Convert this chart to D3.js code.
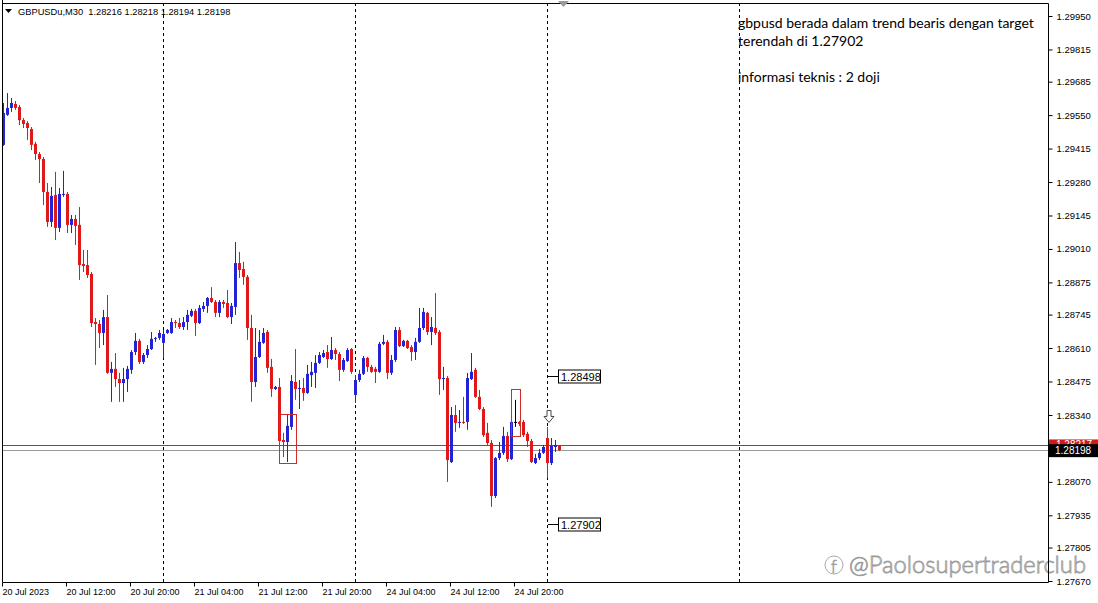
<!DOCTYPE html>
<html><head><meta charset="utf-8">
<script src="https://cdn.jsdelivr.net/npm/d3@7"></script>
<style>body{margin:0;background:#fff;} svg{display:block;}</style>
</head><body><svg id="c" width="1098" height="603"></svg>
<script>
// ---- data (GBPUSDu M30, bars from 20 Jul 2023 04:00) ----
const opens = [
1.29430,1.29551,1.29579,1.29595,1.29583,1.29530,1.29518,1.29494,1.29434,1.29393,
1.29373,1.29240,1.29119,1.29228,1.29095,1.29228,1.29232,1.29107,1.29131,1.29107,
1.28949,1.28945,1.28909,1.28715,1.28707,1.28671,1.28735,1.28510,1.28526,1.28485,
1.28469,1.28485,1.28522,1.28594,1.28639,1.28554,1.28582,1.28606,1.28647,1.28651,
1.28631,1.28671,1.28671,1.28715,1.28711,1.28695,1.28715,1.28740,1.28760,1.28711,
1.28768,1.28780,1.28812,1.28796,1.28752,1.28796,1.28792,1.28735,1.28776,1.28953,
1.28929,1.28897,1.28691,1.28473,1.28574,1.28631,1.28675,1.28534,1.28445,1.28453,
1.28239,1.28231,1.28292,1.28473,1.28445,1.28449,1.28429,1.28501,1.28510,1.28550,
1.28574,1.28594,1.28566,1.28602,1.28586,1.28522,1.28558,1.28606,1.28421,1.28481,
1.28506,1.28570,1.28534,1.28526,1.28514,1.28627,1.28635,1.28510,1.28562,1.28683,
1.28618,1.28639,1.28614,1.28594,1.28635,1.28691,1.28752,1.28675,1.28691,1.28675,
1.28485,1.28489,1.28150,1.28340,1.28308,1.28312,1.28312,1.28485,1.28522,1.28413,
1.28364,1.28268,1.28227,1.28013,1.28166,1.28187,1.28255,1.28162,1.28312,1.28312,
1.28312,1.28264,1.28235,1.28146,1.28166,1.28187,1.28247,1.28146,1.28211,1.28216];
const highs = [
1.29599,1.29639,1.29619,1.29607,1.29591,1.29538,1.29526,1.29502,1.29442,1.29401,
1.29381,1.29276,1.29260,1.29321,1.29256,1.29325,1.29240,1.29147,1.29147,1.29179,
1.29006,1.29006,1.28917,1.28731,1.28723,1.28764,1.28824,1.28554,1.28590,1.28510,
1.28530,1.28538,1.28602,1.28671,1.28647,1.28590,1.28622,1.28675,1.28655,1.28683,
1.28683,1.28687,1.28731,1.28723,1.28731,1.28735,1.28764,1.28768,1.28768,1.28784,
1.28796,1.28816,1.28856,1.28804,1.28804,1.28804,1.28844,1.28792,1.29038,1.28998,
1.28958,1.28905,1.28744,1.28691,1.28683,1.28691,1.28683,1.28566,1.28457,1.28489,
1.28268,1.28340,1.28501,1.28606,1.28481,1.28489,1.28542,1.28554,1.28582,1.28594,
1.28602,1.28622,1.28655,1.28610,1.28594,1.28570,1.28610,1.28610,1.28501,1.28522,
1.28578,1.28574,1.28542,1.28534,1.28635,1.28663,1.28643,1.28582,1.28695,1.28695,
1.28643,1.28643,1.28622,1.28651,1.28772,1.28772,1.28756,1.28735,1.28832,1.28683,
1.28534,1.28497,1.28372,1.28380,1.28360,1.28413,1.28510,1.28590,1.28530,1.28441,
1.28372,1.28308,1.28239,1.28170,1.28231,1.28292,1.28272,1.28320,1.28401,1.28316,
1.28320,1.28272,1.28243,1.28183,1.28203,1.28219,1.28292,1.28247,1.28239,1.28218];
const lows = [
1.29426,1.29547,1.29563,1.29571,1.29510,1.29498,1.29450,1.29409,1.29369,1.29276,
1.29187,1.29099,1.29099,1.29046,1.29078,1.29220,1.29074,1.29074,1.29026,1.28885,
1.28917,1.28893,1.28695,1.28542,1.28610,1.28622,1.28506,1.28393,1.28453,1.28393,
1.28393,1.28433,1.28506,1.28582,1.28546,1.28546,1.28570,1.28602,1.28635,1.28643,
1.28570,1.28667,1.28667,1.28691,1.28687,1.28683,1.28683,1.28735,1.28659,1.28707,
1.28756,1.28752,1.28792,1.28735,1.28735,1.28772,1.28731,1.28707,1.28744,1.28893,
1.28865,1.28643,1.28393,1.28453,1.28570,1.28627,1.28510,1.28413,1.28441,1.28199,
1.28170,1.28150,1.28280,1.28401,1.28364,1.28397,1.28425,1.28453,1.28449,1.28546,
1.28570,1.28530,1.28562,1.28562,1.28477,1.28514,1.28554,1.28506,1.28389,1.28473,
1.28501,1.28514,1.28510,1.28469,1.28510,1.28622,1.28485,1.28501,1.28554,1.28614,
1.28614,1.28606,1.28558,1.28562,1.28631,1.28683,1.28663,1.28622,1.28663,1.28421,
1.28441,1.28070,1.28146,1.28272,1.28288,1.28304,1.28280,1.28481,1.28409,1.28360,
1.28251,1.28219,1.27969,1.28005,1.28158,1.28179,1.28150,1.28158,1.28292,1.28296,
1.28251,1.28211,1.28146,1.28142,1.28158,1.28183,1.28086,1.28138,1.28191,1.28194];
const closes = [
1.29559,1.29579,1.29599,1.29579,1.29530,1.29514,1.29498,1.29430,1.29393,1.29373,
1.29240,1.29119,1.29224,1.29095,1.29232,1.29232,1.29107,1.29131,1.29103,1.28945,
1.28941,1.28905,1.28711,1.28707,1.28671,1.28735,1.28510,1.28526,1.28485,1.28469,
1.28485,1.28526,1.28594,1.28639,1.28554,1.28582,1.28606,1.28647,1.28651,1.28671,
1.28667,1.28683,1.28715,1.28711,1.28695,1.28715,1.28744,1.28760,1.28711,1.28772,
1.28780,1.28812,1.28796,1.28752,1.28796,1.28788,1.28735,1.28780,1.28953,1.28925,
1.28897,1.28691,1.28473,1.28574,1.28635,1.28671,1.28530,1.28445,1.28453,1.28235,
1.28231,1.28296,1.28477,1.28445,1.28449,1.28429,1.28506,1.28514,1.28550,1.28582,
1.28590,1.28566,1.28602,1.28586,1.28522,1.28562,1.28602,1.28514,1.28481,1.28506,
1.28570,1.28534,1.28514,1.28514,1.28627,1.28635,1.28510,1.28562,1.28683,1.28618,
1.28639,1.28610,1.28594,1.28635,1.28691,1.28756,1.28675,1.28695,1.28671,1.28485,
1.28489,1.28158,1.28340,1.28308,1.28312,1.28308,1.28489,1.28514,1.28413,1.28364,
1.28259,1.28227,1.28013,1.28166,1.28187,1.28255,1.28162,1.28312,1.28312,1.28304,
1.28259,1.28235,1.28150,1.28166,1.28187,1.28211,1.28146,1.28215,1.28219,1.28198];

const timeLabels = ["20 Jul 2023","20 Jul 12:00","20 Jul 20:00","21 Jul 04:00","21 Jul 12:00","21 Jul 20:00","24 Jul 04:00","24 Jul 12:00","24 Jul 20:00"];
const timeLabelBars = [0,16,32,48,64,80,96,112,128];
const daySeparatorBars = [40,88,136,184];
const priceTicks = [1.29950,1.29815,1.29685,1.29550,1.29415,1.29280,1.29145,1.29010,1.28875,1.28745,1.28610,1.28475,1.28340,1.28070,1.27935,1.27805,1.27670];
const askPrice = 1.28217, bidPrice = 1.28198;
const labelPrices = [1.28498, 1.27902];
const headerText = "GBPUSDu,M30  1.28216 1.28218 1.28194 1.28198";
const noteLines = ["gbpusd berada dalam trend bearis dengan target","terendah di 1.27902","","informasi teknis : 2 doji"];
const dojiBoxBars = [[69,73.2],[126.9,129.2]];
const dojiBoxPrices = [[1.28344,1.28146],[1.28445,1.28255]];
const arrowBar = 136, arrowPrice = 1.28330;
const watermark = "@Paolosupertraderclub";

// ---- drawing ----
const svg = d3.select("#c");
const L = 2, R = 1048, T = 3, B = 582;
const x = d3.scaleLinear().domain([0, 260]).range([3.3, 1043.3]);
const y = d3.scaleLinear().domain([1.27670, 1.29950]).range([581, 16]);
const BULL = "#2323d6", BEAR = "#e01818";

svg.append("rect").attr("width",1098).attr("height",603).attr("fill","#fff");

// day separators
svg.append("g").selectAll("line").data(daySeparatorBars).join("line")
  .attr("x1", d => Math.round(x(d)) + 0.5).attr("x2", d => Math.round(x(d)) + 0.5)
  .attr("y1", T).attr("y2", B)
  .attr("stroke", "#000").attr("stroke-dasharray", "3,3");

// bid / ask lines
svg.append("line").attr("x1",L).attr("x2",R).attr("y1",Math.round(y(askPrice))+0.5).attr("y2",Math.round(y(askPrice))+0.5).attr("stroke","#c42a2a");
svg.append("line").attr("x1",L).attr("x2",R).attr("y1",Math.round(y(bidPrice))+0.5).attr("y2",Math.round(y(bidPrice))+0.5).attr("stroke","#9a9a9a");

// candles
const idx = d3.range(opens.length);
const cg = svg.append("g");
const col = i => closes[i] > opens[i] ? BULL : (closes[i] < opens[i] ? BEAR : "#000");
cg.selectAll("line").data(idx).join("line")
  .attr("x1", i => Math.round(x(i)) + 0.5).attr("x2", i => Math.round(x(i)) + 0.5)
  .attr("y1", i => y(highs[i])).attr("y2", i => y(lows[i]))
  .attr("stroke", col);
cg.selectAll("rect").data(idx).join("rect")
  .attr("x", i => Math.round(x(i)) - 1)
  .attr("width", 3)
  .attr("y", i => Math.min(y(opens[i]), y(closes[i])))
  .attr("height", i => Math.max(1, Math.abs(y(opens[i]) - y(closes[i]))))
  .attr("fill", col);

// doji boxes
svg.append("g").selectAll("rect").data(dojiBoxBars).join("rect")
  .attr("x", (d) => Math.round(x(d[0])) + 0.5)
  .attr("width", d => Math.round(x(d[1]) - x(d[0])))
  .attr("y", (d, k) => Math.round(y(dojiBoxPrices[k][0])) + 0.5)
  .attr("height", (d, k) => Math.round(y(dojiBoxPrices[k][1]) - y(dojiBoxPrices[k][0])))
  .attr("fill", "none").attr("stroke", "#d02c2c");

// down arrow (outlined)
{
  const ax = Math.round(x(arrowBar)) + 2, ay = y(arrowPrice);
  const p = d3.path();
  p.moveTo(ax-2, ay-7); p.lineTo(ax+2, ay-7); p.lineTo(ax+2, ay-1); p.lineTo(ax+5, ay-1);
  p.lineTo(ax, ay+5); p.lineTo(ax-5, ay-1); p.lineTo(ax-2, ay-1); p.closePath();
  svg.append("path").attr("d", p.toString()).attr("fill","#fff").attr("stroke","#444").attr("stroke-width",1);
}

// price labels with leaders
const lg = svg.append("g").attr("font-family","Liberation Sans, Arial, sans-serif").attr("font-size",11);
labelPrices.forEach(pv => {
  const yy = Math.round(y(pv)) + 0.5, x0 = Math.round(x(136)) + 1;
  lg.append("line").attr("x1",x0).attr("x2",x0+10).attr("y1",yy).attr("y2",yy).attr("stroke","#000");
  lg.append("rect").attr("x",x0+10.5).attr("y",yy-6.5).attr("width",42).attr("height",13).attr("fill","#fff").attr("stroke","#000");
  lg.append("text").attr("x",x0+13).attr("y",yy+4).attr("fill","#000").text(pv.toFixed(5));
});

// watermark (drawn under the axis labels)
const wg = svg.append("g");
wg.append("circle").attr("cx",834).attr("cy",565).attr("r",9).attr("fill","none").attr("stroke","#aaa").attr("stroke-width",1);
wg.append("text").attr("x",831).attr("y",573).attr("font-family","Lato, sans-serif").attr("font-size",17).attr("font-weight",300)
  .attr("fill","#fff").attr("stroke","#999").attr("stroke-width",0.7).text("f");
wg.append("text").attr("x",849).attr("y",573).attr("font-family","Lato, sans-serif").attr("font-size",22.5).attr("font-weight",300)
  .attr("textLength",237).attr("lengthAdjust","spacingAndGlyphs")
  .attr("fill","#fff").attr("fill-opacity",0.6).attr("stroke","#9a9a9a").attr("stroke-width",0.8).text(watermark);

// frame
svg.append("path").attr("d", `M${L+0.5},0V${B+0.5}H${R+0.5}V${T+0.5}H${L+0.5}`).attr("fill","none").attr("stroke","#000");

// y axis (right)
const yAxis = d3.axisRight(y).tickValues(priceTicks).tickSize(4).tickPadding(4).tickFormat(d3.format(".5f"));
const ya = svg.append("g").attr("transform", `translate(${R+0.5},0)`).call(yAxis);
ya.select(".domain").remove();
ya.selectAll("text").attr("font-family","Liberation Sans, Arial, sans-serif").attr("font-size",9.5).attr("fill","#000");
ya.selectAll("line").attr("stroke","#000");

// current price tags
const askY = y(askPrice), bidY = y(bidPrice);
svg.append("rect").attr("x",R+1).attr("y",askY-6).attr("width",49).attr("height",12).attr("fill","#d11a1a");
svg.append("text").attr("x",R+8).attr("y",askY+3).attr("fill","#fff").attr("font-family","Liberation Sans, Arial, sans-serif").attr("font-size",10).text(askPrice.toFixed(5));
svg.append("rect").attr("x",R+1).attr("y",bidY-6).attr("width",49).attr("height",13).attr("fill","#000");
svg.append("text").attr("x",R+7).attr("y",bidY+4).attr("fill","#fff").attr("font-family","Liberation Sans, Arial, sans-serif").attr("font-size",10).text(bidPrice.toFixed(5));

// x axis (bottom)
const xAxis = d3.axisBottom(x).tickValues(timeLabelBars).tickSize(4).tickPadding(2)
  .tickFormat((d, k) => timeLabels[k]);
const xa = svg.append("g").attr("transform", `translate(0,${B+0.5})`).call(xAxis);
xa.select(".domain").remove();
xa.selectAll(".tick").attr("transform", d => `translate(${Math.round(x(d)) - 0.5},0)`);
xa.selectAll("text").attr("text-anchor","start").attr("font-family","Liberation Sans, Arial, sans-serif").attr("font-size",9).attr("fill","#000");
xa.selectAll("line").attr("stroke","#000");

// header
svg.append("path").attr("d","M5,9H12L8.5,13Z").attr("fill","#000");
svg.append("text").attr("x",18).attr("y",15).attr("font-family","Liberation Sans, Arial, sans-serif").attr("font-size",9.3).attr("fill","#000")
  .attr("xml:space","preserve").style("white-space","pre").text(headerText);

// chart shift marker
svg.append("path").attr("d","M558,1H569L563.5,7Z").attr("fill","#9a9a9a");

// note text
const ng = svg.append("g").attr("font-family","Lato, 'Open Sans', sans-serif").attr("font-size",14).attr("fill","#000");
noteLines.forEach((t, k) => { if (t) ng.append("text").attr("x",738).attr("y",28 + k*18).text(t); });
</script></body></html>
